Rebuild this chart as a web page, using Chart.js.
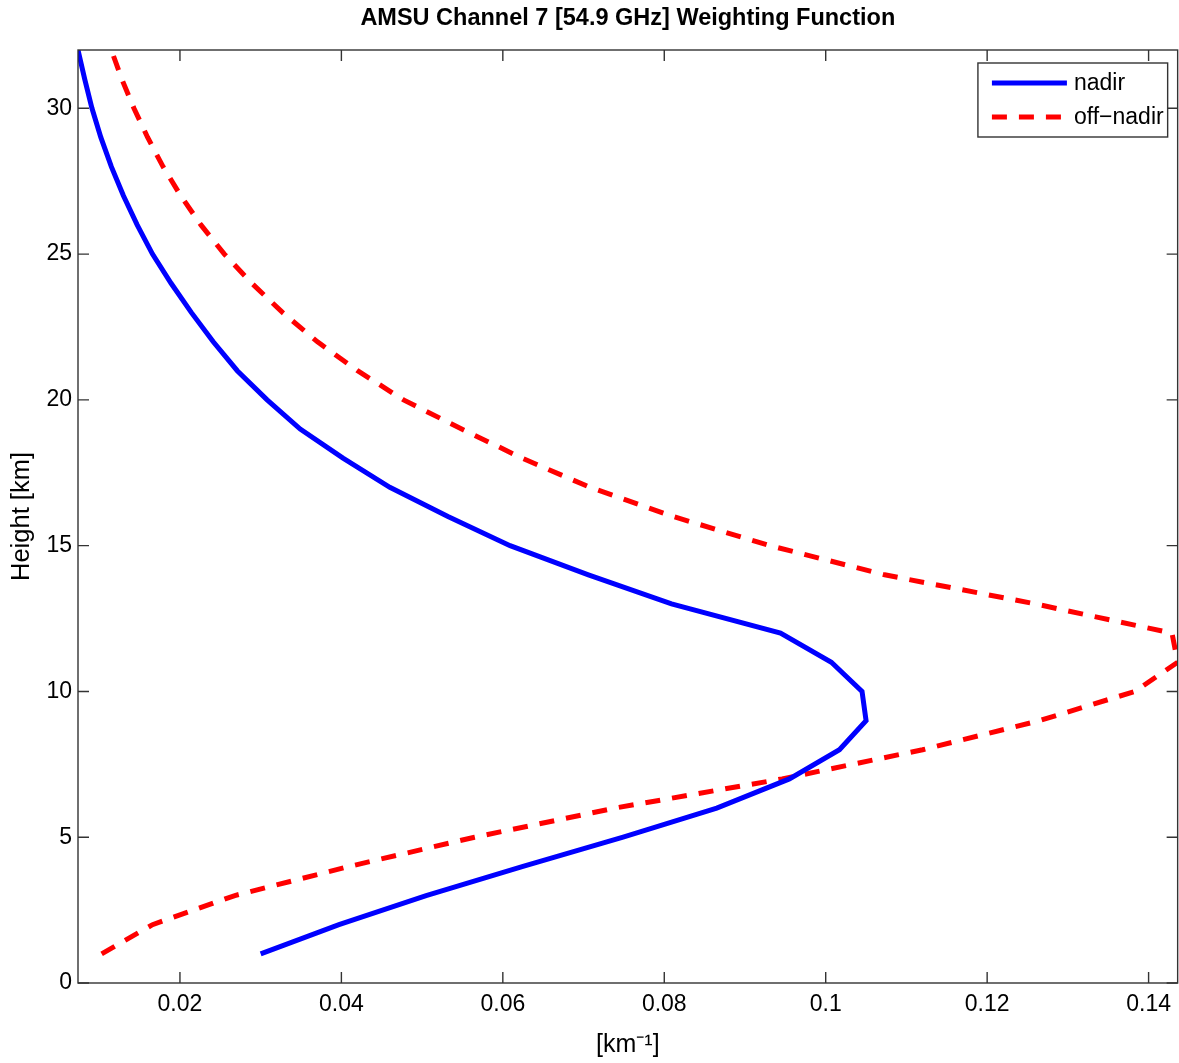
<!DOCTYPE html>
<html><head><meta charset="utf-8">
<script src="https://cdn.jsdelivr.net/npm/chart.js@4.4.0/dist/chart.umd.min.js"></script>
<style>html,body{margin:0;padding:0;background:#fff;}#wrap{width:1179px;height:1063px;}</style>
</head><body><div id="wrap"><canvas id="c" width="1179" height="1063"></canvas></div>
<script>
// ---- data ----
const heights = [1,2,3,4,5,6,7,8,9,10,11,12,13,14,15,16,17,18,19,20,21,22,23,24,25,26,27,28,29,30,31,32];
const nadir = [0.0300,0.0397,0.0505,0.0625,0.0749,0.0865,0.0955,0.1017,0.1050,0.1045,0.1007,0.0944,
  0.0809,0.0706,0.0609,0.0532,0.0460,0.0402,0.0349,0.0308,0.0271,0.0241,0.0214,0.0189,0.0166,
  0.0147,0.0130,0.0115,0.0102,0.0091,0.0082,0.00737];
const offNadir = [0.0103,0.0166,0.0268,0.0410,0.0565,0.0739,0.0946,0.1120,0.1265,0.1383,0.1436,0.1429,
  0.1260,0.1073,0.0931,0.0811,0.0708,0.0624,0.0549,0.0477,0.0420,0.0370,0.0327,0.0289,0.0255,
  0.0226,0.0201,0.0179,0.0160,0.0143,0.0128,0.0115];
const seriesNames = ['nadir','off\u2212nadir'];
const xTicks = [0.02,0.04,0.06,0.08,0.1,0.12,0.14];
const xTickLabels = ['0.02','0.04','0.06','0.08','0.1','0.12','0.14'];
const yTicks = [0,5,10,15,20,25,30];
const yTickLabels = ['0','5','10','15','20','25','30'];

const FONT = '"Liberation Sans", Arial, Helvetica, sans-serif';
const toPts = (xs) => xs.map((v,i)=>({x:v,y:heights[i]}));

const framePlugin = {
  id:'frame',
  afterLayout(chart){
    // centre the title over the plotting area (as in the reference)
    const t = chart.titleBlock, ca = chart.chartArea;
    if (t && ca) { t.left = ca.left; t.right = ca.right; t.width = ca.right - ca.left; }
  },
  afterDatasetsDraw(chart){
    const {ctx, chartArea:{left,right,top,bottom}, scales:{x,y}} = chart;
    ctx.save();
    ctx.strokeStyle='#333'; ctx.lineWidth=1.4;
    ctx.strokeRect(left,top,right-left,bottom-top);
    const L=11;
    ctx.beginPath();
    x.ticks.forEach(t=>{const p=x.getPixelForValue(t.value);
      ctx.moveTo(p,bottom); ctx.lineTo(p,bottom-L); ctx.moveTo(p,top); ctx.lineTo(p,top+L);});
    y.ticks.forEach(t=>{const p=y.getPixelForValue(t.value);
      ctx.moveTo(left,p); ctx.lineTo(left+L,p); ctx.moveTo(right,p); ctx.lineTo(right-L,p);});
    ctx.stroke();
    // legend inside the axes (top-right)
    ctx.font = '23px ' + FONT;
    const ds = chart.data.datasets;
    const tw = Math.max(...ds.map(d=>ctx.measureText(d.label).width));
    const sample = 75, padL = 14, gap = 7, padR = 4, rowH = 34;
    const bw = padL + sample + gap + tw + padR, bh = 74;
    const bx = right - 10 - bw, by = top + 13;
    ctx.fillStyle='#fff'; ctx.fillRect(bx,by,bw,bh);
    ctx.strokeStyle='#333'; ctx.lineWidth=1.4; ctx.strokeRect(bx,by,bw,bh);
    ds.forEach((d,i)=>{
      const yy = by + 20 + i*rowH;
      ctx.beginPath();
      ctx.strokeStyle=d.borderColor; ctx.lineWidth=d.borderWidth; ctx.lineCap='butt';
      ctx.setLineDash(d.borderDash||[]);
      ctx.moveTo(bx+padL,yy); ctx.lineTo(bx+padL+sample,yy); ctx.stroke();
      ctx.setLineDash([]);
      ctx.fillStyle='#000'; ctx.textAlign='left'; ctx.textBaseline='middle';
      ctx.fillText(d.label, bx+padL+sample+gap, yy+1);
    });
    ctx.restore();
  }
};

new Chart(document.getElementById('c'), {
  type:'scatter',
  data:{datasets:[
    {label:seriesNames[0], data:toPts(nadir), showLine:true, borderColor:'#0000ff', backgroundColor:'#0000ff',
     borderWidth:5, pointRadius:0, tension:0, borderCapStyle:'butt', borderJoinStyle:'miter'},
    {label:seriesNames[1], data:toPts(offNadir), showLine:true, borderColor:'#ff0000', backgroundColor:'#ff0000',
     borderWidth:5, borderDash:[15,12], pointRadius:0, tension:0, borderCapStyle:'butt', borderJoinStyle:'miter'}
  ]},
  options:{
    responsive:false, animation:false, devicePixelRatio:1,
    layout:{padding:{left:0,right:1,top:0,bottom:0}},
    plugins:{
      legend:{display:false}, tooltip:{enabled:false},
      title:{display:true, text:'AMSU Channel 7 [54.9 GHz] Weighting Function', color:'#000',
        font:{family:FONT,size:23.5,weight:'bold',lineHeight:1.2}, padding:{top:4,bottom:17.8}}
    },
    scales:{
      x:{type:'linear', position:'bottom', min:0.00737, max:0.1436,
        afterBuildTicks:(s)=>{s.ticks = xTicks.map(v=>({value:v}));},
        afterFit:(s)=>{s.height = 80;},
        ticks:{color:'#000', font:{family:FONT,size:23}, padding:8, maxRotation:0, autoSkip:false,
          callback:(v)=>{const i=xTicks.indexOf(v); return i>=0?xTickLabels[i]:'';}},
        grid:{display:false, drawTicks:false}, border:{display:false},
        title:{display:true, text:'[km\u207B\u00B9]', color:'#000', font:{family:FONT,size:25}, padding:{top:0,bottom:3}}
      },
      y:{type:'linear', min:0, max:32,
        afterBuildTicks:(s)=>{s.ticks = yTicks.map(v=>({value:v}));},
        afterFit:(s)=>{s.width = 78;},
        ticks:{color:'#000', font:{family:FONT,size:23}, padding:6, autoSkip:false,
          callback:(v)=>{const i=yTicks.indexOf(v); return i>=0?yTickLabels[i]:'';}},
        grid:{display:false, drawTicks:false}, border:{display:false},
        title:{display:true, text:'Height [km]', color:'#000', font:{family:FONT,size:25.5}, padding:{top:7,bottom:0}}
      }
    }
  },
  plugins:[framePlugin]
});
</script></body></html>
